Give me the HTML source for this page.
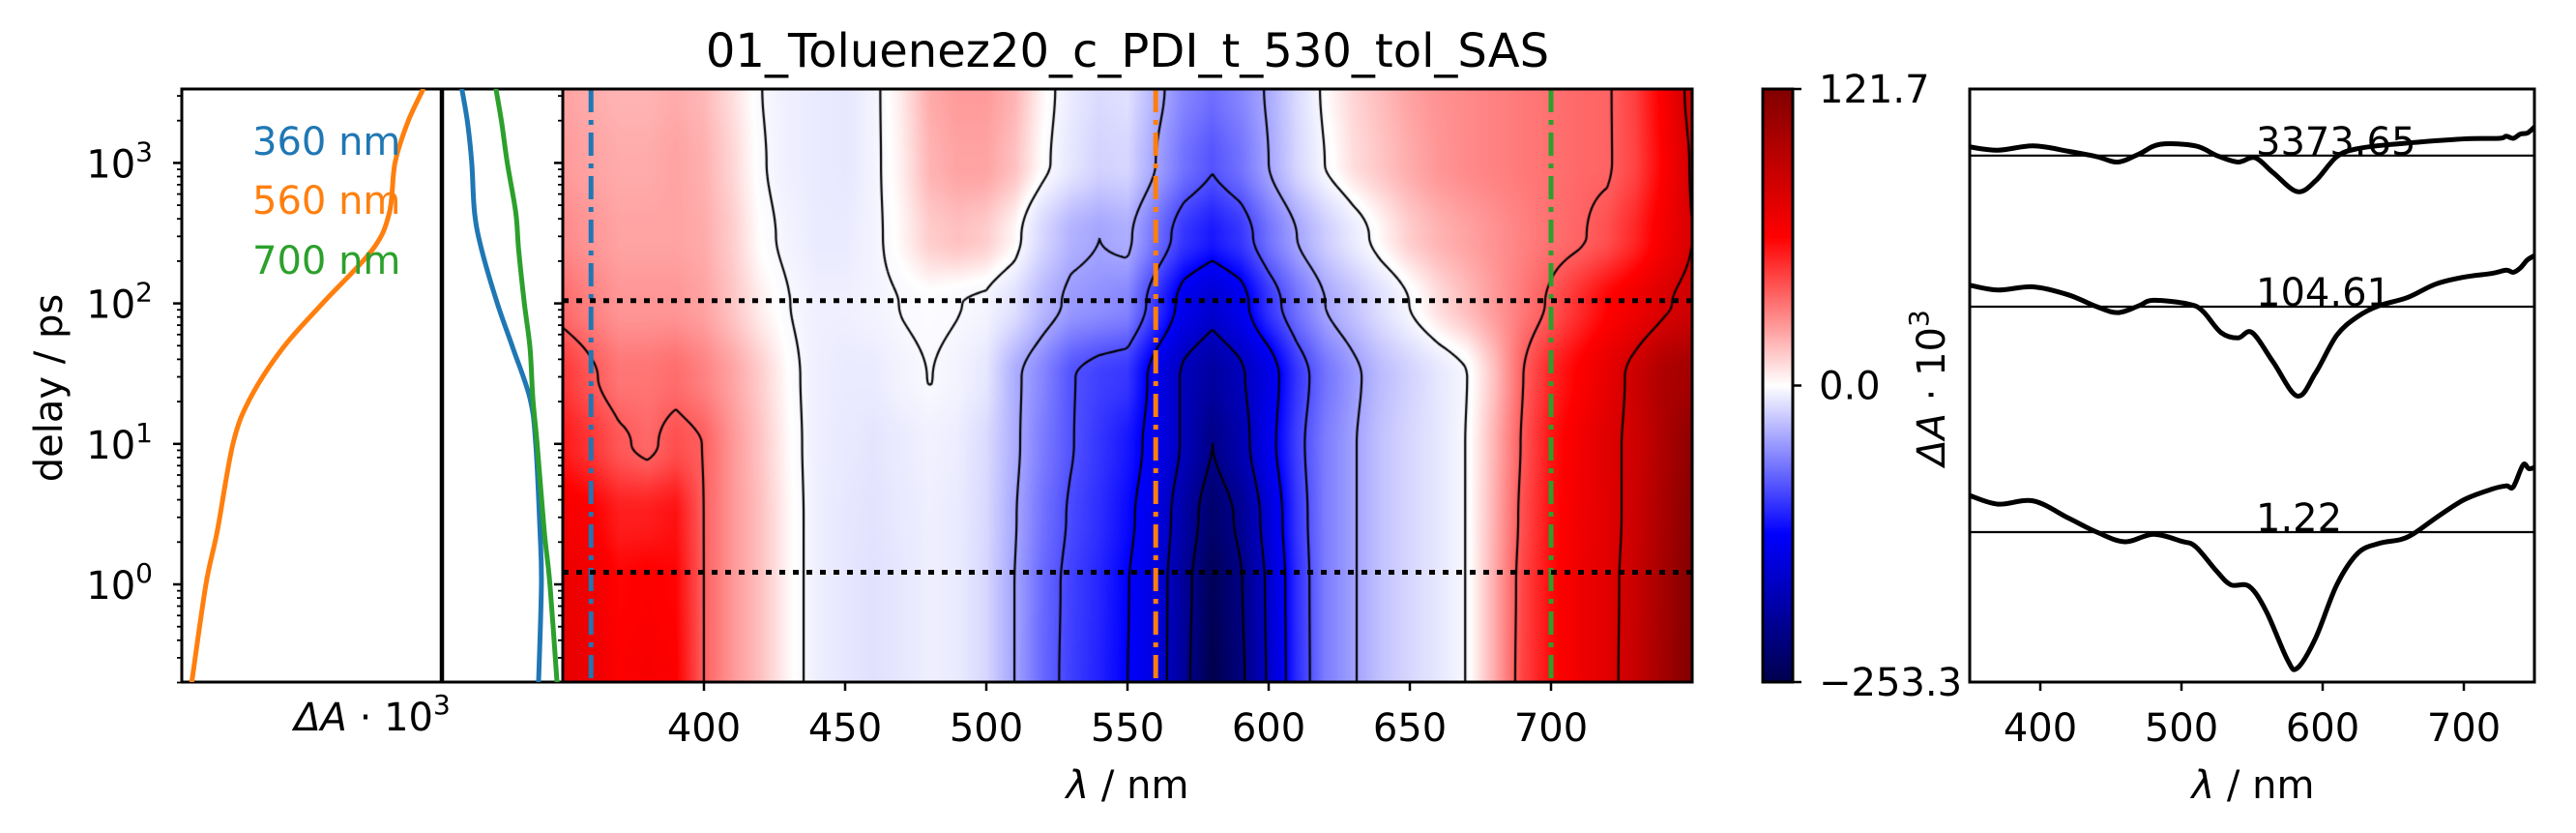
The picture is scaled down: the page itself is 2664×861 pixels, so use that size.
<!DOCTYPE html>
<html><head><meta charset="utf-8">
<style>
html,body{margin:0;padding:0;background:#fff;}
#wrap{position:relative;width:2664px;height:861px;overflow:hidden;}
canvas{position:absolute;left:582px;top:92px;}
svg{position:absolute;left:0;top:0;}
text{font-family:"DejaVu Sans","Liberation Sans",sans-serif;}
</style></head>
<body>
<div id="wrap">
<canvas id="hm" width="1168" height="613"></canvas>
<svg id="sv" width="2664" height="861" xmlns="http://www.w3.org/2000/svg">
<defs>
<linearGradient id="cbg" x1="0" y1="1" x2="0" y2="0">
<stop offset="0" stop-color="rgb(0,0,77)"/><stop offset="0.25" stop-color="rgb(0,0,255)"/>
<stop offset="0.5" stop-color="rgb(255,255,255)"/><stop offset="0.75" stop-color="rgb(255,0,0)"/>
<stop offset="1" stop-color="rgb(128,0,0)"/>
</linearGradient>
</defs>
<text x="1166" y="69" font-size="48" text-anchor="middle">01_Toluenez20_c_PDI_t_530_tol_SAS</text>
</svg>
</div>
<script>
// ---------- data ----------
const wlGrid = [350,360,370,380,390,400,410,420,430,440,450,460,470,480,490,500,510,520,530,540,550,560,570,580,590,600,610,620,630,640,650,660,670,680,690,700,710,720,730,740,750];
const delayGrid = [0.2,1,3,10,30,100,300,1000,3373];
const row0 = [72,70,62,64,62,38,25,15,2,-8,-12,-15,-12,-8,-10,-20,-45,-75,-95,-110,-128,-150,-200,-253,-220,-165,-105,-65,-47,-30,-20,-12,-3,20,45,58,68,75,88,105,121];
const row1 = [70,68,60,62,60,38,25,15,2,-8,-12,-15,-12,-8,-10,-20,-45,-74,-94,-108,-127,-150,-198,-246,-215,-163,-104,-65,-47,-30,-20,-12,-3,20,44,58,68,75,87,104,120];
const row2 = [66,62,54,54,57,38,25,15,2,-8,-12,-14,-11,-8,-10,-19,-43,-70,-90,-104,-122,-146,-190,-232,-205,-155,-100,-65,-47,-30,-20,-12,-3,19,42,57,67,75,85,102,118];
const row3 = [55,48,40,36,42,38,25,14,1,-8,-11,-13,-10,-7,-9,-18,-40,-65,-85,-100,-115,-140,-175,-212,-185,-140,-95,-65,-47,-30,-20,-12,-3,18,40,56,66,76,84,100,115];
const row4 = [48,40,33,33,35,30,22,12,0,-8,-10,-10,-6,-3,-6,-12,-40,-60,-85,-95,-100,-140,-175,-195,-175,-145,-100,-70,-50,-33,-22,-12,-4,15,38,52,62,72,85,100,105];
const row5 = [35,30,25,25,25,22,14,4,-3,-8,-8,-6,-3,-1,-3,-5,-15,-35,-50,-55,-60,-100,-140,-160,-140,-100,-70,-45,-30,-15,-3,8,16,24,32,40,50,60,68,78,85];
const row6 = [28,25,22,22,22,20,12,0,-6,-10,-10,-6,2,12,15,12,2,-20,-38,-45,-40,-70,-100,-115,-100,-70,-45,-25,-10,2,12,18,22,26,30,34,37,42,52,66,80];
const row7 = [24,22,20,20,22,19,10,-2,-8,-10,-12,-6,4,18,22,22,15,0,-12,-22,-20,-45,-70,-85,-70,-45,-20,-3,8,14,20,25,28,30,32,34,36,37,45,62,82];
const row8 = [22,20,18,18,20,17,8,-3,-8,-10,-12,-6,5,20,24,24,18,2,-10,-18,-15,-38,-60,-72,-60,-42,-18,0,10,16,22,26,28,30,32,34,36,37,46,64,86];
const mapRows = [row0,row1,row2,row3,row4,row5,row6,row7,row8];
const vmin = -253.3, vmax = 121.7;
const cutDelays = [1.22, 104.61];
const traceWls = [360, 560, 700];

// kinetic traces (left panel)
const kinDelays = [0.2,1,2.4,10,21,48,100,240,440,1000,1950,3373];
const kin360 = [68,70,69,66,62,50,39,28,23,21,18,14];
const kin560 = [-176,-166,-158,-147,-135,-112,-84,-49,-37,-33,-24,-13];
const kin700 = [81,76,72,67,64,62,58,54,52,46,42,38];

// SAS spectra (right panel)
const sasWl1 = [350,370,395,420,440,460,480,500,510,525,535,548,560,575,582,595,610,625,640,655,665,680,700,720,730,735,742,746,750];
const sasVal1 = [68,52,58,26,0,-18,-4,-17,-27,-73,-98,-101,-147,-237,-253,-197,-98,-39,-21,-14,-2,26,60,80,86,84,125,118,120];
const sasWl2 = [350,370,395,420,440,455,470,480,505,515,528,540,550,565,582,595,610,625,640,660,680,700,720,730,735,740,745,750];
const sasVal2 = [40,31,37,22,0,-11,2,12,5,-8,-48,-58,-48,-103,-166,-123,-53,-18,2,17,42,55,62,68,64,72,87,95];
const sasWl3 = [350,370,395,420,440,455,470,485,510,525,540,552,565,582,595,610,625,650,700,725,730,735,740,745,750];
const sasVal3 = [16,10,18,8,-2,-12,3,21,18,0,-12,-4,-32,-67,-47,-2,13,21,31,32,36,32,40,42,53];
const sasOffsets = [0, 419, 700];
const sasLabels = ["1.22","104.61","3373.65"];
const levels = [-211.6,-170,-128.3,-86.6,-45,-3.3,38.3,80];

// ---------- scales ----------
const HX0=582,HX1=1750,Y0=92,Y1=705;
const X = wl => HX0 + (wl-350)*2.92;
const Y = d => 604 - Math.log10(d)*145.2;
const LX = v => 457 + v*1.47;
const RX = wl => 2037 + (wl-350)*1.46;
const RY = v => 550 - v*0.556;

const svg = document.getElementById('sv');
const NS = 'http://www.w3.org/2000/svg';
function mk(tag, attrs, parent){const e=document.createElementNS(NS,tag);for(const k in attrs)e.setAttribute(k,attrs[k]);(parent||svg).appendChild(e);return e;}
function txt(x,y,s,size,anchor,extra){const e=mk('text',Object.assign({x:x,y:y,'font-size':size,'text-anchor':anchor||'middle'},extra||{}));e.textContent=s;return e;}
function crPath(pts){let d='M'+pts[0][0]+','+pts[0][1];for(let i=0;i<pts.length-1;i++){const p0=pts[Math.max(0,i-1)],p1=pts[i],p2=pts[i+1],p3=pts[Math.min(pts.length-1,i+2)];const c1=[p1[0]+(p2[0]-p0[0])/6,p1[1]+(p2[1]-p0[1])/6],c2=[p2[0]-(p3[0]-p1[0])/6,p2[1]-(p3[1]-p1[1])/6];d+=' C'+c1[0]+','+c1[1]+' '+c2[0]+','+c2[1]+' '+p2[0]+','+p2[1];}return d;}

// ---------- heatmap ----------
const lgGrid = delayGrid.map(Math.log10);
function field(wl, ld){
  let ci=(wl-350)/10; ci=Math.max(0,Math.min(39.9999,ci)); const c=Math.floor(ci), fc=ci-c;
  let r=0; while(r<lgGrid.length-2 && ld>lgGrid[r+1]) r++;
  let fr=(ld-lgGrid[r])/(lgGrid[r+1]-lgGrid[r]); fr=Math.max(0,Math.min(1,fr));
  fr = fr*fr*(3-2*fr);
  const a=mapRows[r][c]*(1-fc)+mapRows[r][c+1]*fc, b=mapRows[r+1][c]*(1-fc)+mapRows[r+1][c+1]*fc;
  return a*(1-fr)+b*fr;
}
function cmap(v){
  let t = v<0 ? 0.5*(v-vmin)/(-vmin) : 0.5+0.5*v/vmax; t=Math.max(0,Math.min(1,t));
  const s=[[0,0,0,0.3],[0.25,0,0,1],[0.5,1,1,1],[0.75,1,0,0],[1,0.5,0,0]];
  let i=0; while(i<3 && t>s[i+1][0]) i++;
  const f=(t-s[i][0])/(s[i+1][0]-s[i][0]);
  return [0,1,2].map(k=>Math.round(255*(s[i][k+1]*(1-f)+s[i+1][k+1]*f)));
}
const cv=document.getElementById('hm'), ctx=cv.getContext('2d');
const W=cv.width,H=cv.height, img=ctx.createImageData(W,H);
const wlOf = px => 350 + (px+0.5)/2.92;
const ldOf = py => (604-(Y0+py+0.5))/145.2;
for(let py=0;py<H;py++){const ld=ldOf(py);for(let px=0;px<W;px++){const c=cmap(field(wlOf(px),ld));const o=(py*W+px)*4;img.data[o]=c[0];img.data[o+1]=c[1];img.data[o+2]=c[2];img.data[o+3]=255;}}
ctx.putImageData(img,0,0);
// contours via marching squares
const S=3, nx=Math.ceil(W/S)+1, ny=Math.ceil(H/S)+1, F=[];
for(let j=0;j<ny;j++){F.push([]);for(let i=0;i<nx;i++)F[j].push(field(350+i*S/2.92,(604-(Y0+j*S))/145.2));}
ctx.strokeStyle='#000';ctx.lineWidth=2.2;ctx.beginPath();
for(const L of levels){
  for(let j=0;j<ny-1;j++)for(let i=0;i<nx-1;i++){
    const a=F[j][i],b=F[j][i+1],c=F[j+1][i+1],d=F[j+1][i];
    const pts=[];
    const e=(v1,v2,x1,y1,x2,y2)=>{const t=(L-v1)/(v2-v1);pts.push([x1+(x2-x1)*t,y1+(y2-y1)*t]);};
    const x=i*S,y=j*S;
    if((a<L)!==(b<L))e(a,b,x,y,x+S,y);
    if((b<L)!==(c<L))e(b,c,x+S,y,x+S,y+S);
    if((c<L)!==(d<L))e(c,d,x+S,y+S,x,y+S);
    if((d<L)!==(a<L))e(d,a,x,y+S,x,y);
    for(let k=0;k+1<pts.length;k+=2){ctx.moveTo(pts[k][0],pts[k][1]);ctx.lineTo(pts[k+1][0],pts[k+1][1]);}
  }
}
ctx.stroke();

// cut lines on heatmap
const tcols=['#1f77b4','#ff7f0e','#2ca02c'];
traceWls.forEach((wl,i)=>{
  const l=mk('line',{x1:X(wl),x2:X(wl),y1:Y0,y2:Y1,stroke:tcols[i],'stroke-width':5,'stroke-dasharray':'24 8 5 8'});
  
  
});
cutDelays.forEach(d=>{
  const l=mk('line',{x1:HX0,x2:HX1,y1:Y(d),y2:Y(d),stroke:'#000','stroke-width':5,'stroke-dasharray':'6 8'});
  
  
});
const hf=mk('rect',{x:HX0,y:Y0,width:HX1-HX0,height:Y1-Y0,fill:'none',stroke:'#000','stroke-width':3});


[400,450,500,550,600,650,700].forEach(wl=>{
  mk('line',{x1:X(wl),x2:X(wl),y1:Y1,y2:Y1+9,stroke:'#000','stroke-width':2.5});
  const t=txt(X(wl),766,String(wl),40);
  
  
});
const hxl=mk('text',{x:1166,y:825,'font-size':40,'text-anchor':'middle'});
hxl.innerHTML='<tspan font-style="italic">λ</tspan> / nm';



// log ticks for left panel and heatmap left edge
[188,582].forEach(ax=>{
  for(let e=-1;e<=3;e++)for(let m=1;m<10;m++){const d=m*Math.pow(10,e);if(d<0.2||d>3373)continue;
    const len=m===1?9:5;mk('line',{x1:ax-len,x2:ax,y1:Y(d),y2:Y(d),stroke:'#000','stroke-width':m===1?2.5:1.8});}
});
[0,1,2,3].forEach(e=>{
  const t=mk('text',{x:158,y:Y(Math.pow(10,e))+15,'font-size':40,'text-anchor':'end'});
  t.innerHTML='10<tspan dy="-17" font-size="28">'+e+'</tspan>';
  
  
});
const yl=txt(0,0,'delay / ps',40,'middle',{transform:'translate(64,401) rotate(-90)'});



// left panel
const lf=mk('rect',{x:188,y:Y0,width:582-188,height:Y1-Y0,fill:'none',stroke:'#000','stroke-width':3});


const zl=mk('line',{x1:LX(0),x2:LX(0),y1:Y0,y2:Y1,stroke:'#000','stroke-width':4.5});


const cp=mk('clipPath',{id:'lclip'});mk('rect',{x:188,y:Y0,width:394,height:Y1-Y0},cp);
[[kin360,'#1f77b4','360'],[kin560,'#ff7f0e','560'],[kin700,'#2ca02c','700']].forEach(([arr,col,n])=>{
  const pts=kinDelays.map((d,i)=>[LX(arr[i]),Y(d)]);
  const p=mk('path',{d:crPath(pts),fill:'none',stroke:col,'stroke-width':5,'clip-path':'url(#lclip)'});
  
  
});
[['360 nm','#1f77b4',160],['560 nm','#ff7f0e',221],['700 nm','#2ca02c',283]].forEach(([s,c,y])=>{
  const t=txt(261,y,s,40,'start',{fill:c});
  
  
});
const lxl=mk('text',{x:385,y:755,'font-size':40,'text-anchor':'middle'});
lxl.innerHTML='<tspan font-style="italic">ΔA</tspan> · 10<tspan dy="-17" font-size="28">3</tspan>';



// colorbar
const cb=mk('rect',{x:1823,y:Y0,width:31,height:Y1-Y0,fill:'url(#cbg)',stroke:'#000','stroke-width':3});


[['121.7',Y0],['0.0',398.5],['−253.3',Y1]].forEach(([s,y])=>{
  mk('line',{x1:1854,x2:1863,y1:y,y2:y,stroke:'#000','stroke-width':2.5});
  const t=txt(1881,y+14,s,40,'start');
  
  
});

// right panel
const rf=mk('rect',{x:2037,y:Y0,width:2621-2037,height:Y1-Y0,fill:'none',stroke:'#000','stroke-width':3});


[[sasWl1,sasVal1],[sasWl2,sasVal2],[sasWl3,sasVal3]].forEach(([wls,vals],k)=>{
  const off=sasOffsets[k];
  const bl=mk('line',{x1:2037,x2:2621,y1:RY(off),y2:RY(off),stroke:'#000','stroke-width':2.2});
  
  
  const p=mk('path',{d:crPath(wls.map((w,i)=>[RX(w),RY(vals[i]+off)])),fill:'none',stroke:'#000','stroke-width':5});
  
  
  const t=txt(2333,RY(off)-1,sasLabels[k],40,'start');
  
  
});
[400,500,600,700].forEach(wl=>{
  mk('line',{x1:RX(wl),x2:RX(wl),y1:Y1,y2:Y1+9,stroke:'#000','stroke-width':2.5});
  const t=txt(RX(wl),766,String(wl),40);
  
  
});
const rxl=mk('text',{x:2330,y:825,'font-size':40,'text-anchor':'middle'});
rxl.innerHTML='<tspan font-style="italic">λ</tspan> / nm';


const ryl=mk('text',{'font-size':40,'text-anchor':'middle',transform:'translate(2011,401) rotate(-90)'});
ryl.innerHTML='<tspan font-style="italic">ΔA</tspan> · 10<tspan dy="-17" font-size="28">3</tspan>';


</script>
</body></html>
